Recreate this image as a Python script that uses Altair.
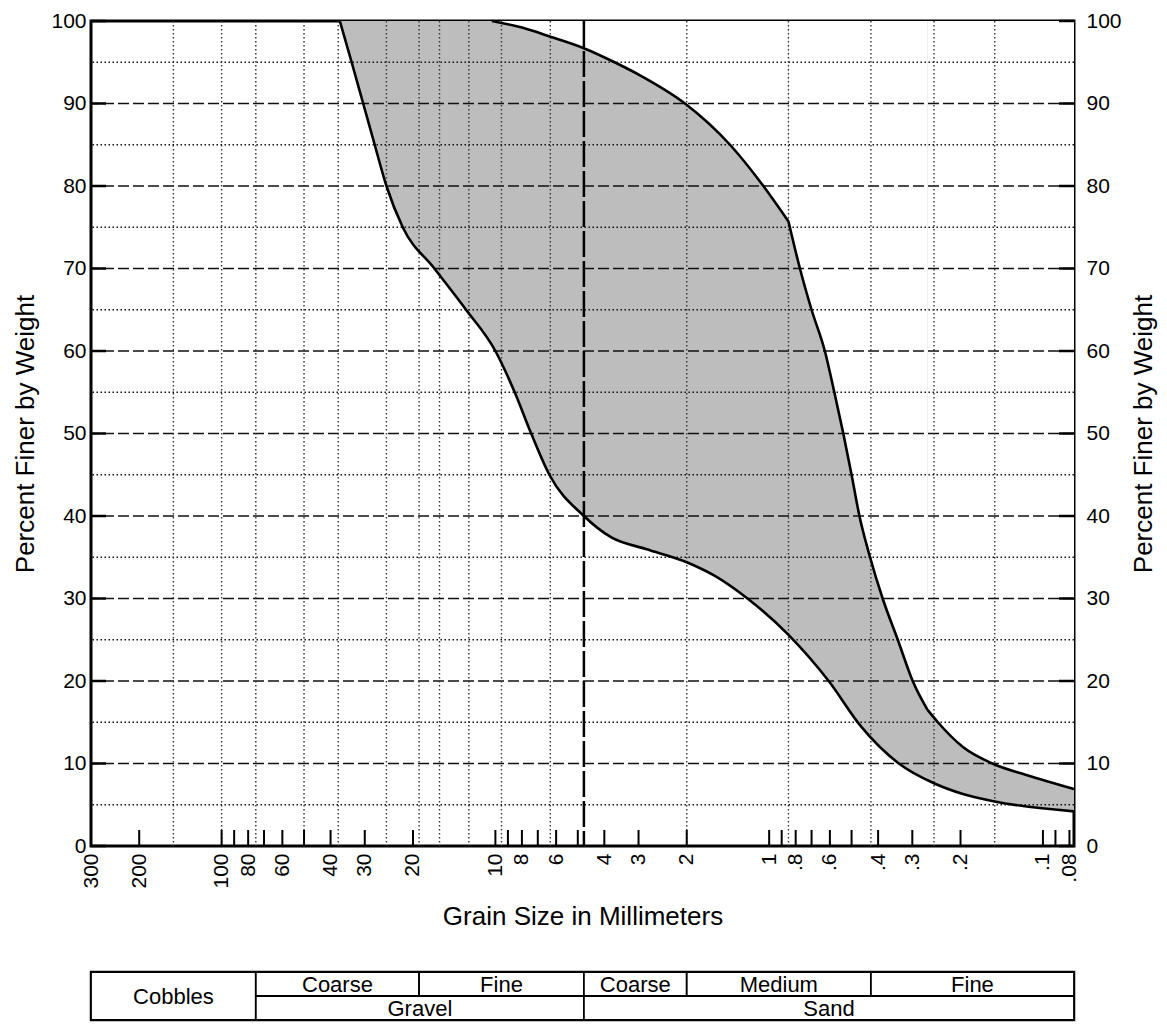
import altair as alt
import pandas as pd
import math

# ---------------- data ----------------
# lower (coarser) grading limit: grain size (mm) -> percent finer
lower_size = [37.0, 33.5, 30.4, 27.6, 25.0, 21.8, 16.7, 12.8, 10.0, 8.5, 7.4, 6.35,
              4.75, 3.77, 2.82, 2.0, 1.59, 1.2, 0.85, 0.606, 0.462, 0.336, 0.25,
              0.196, 0.15, 0.077]
lower_pct = [100, 95, 90, 85, 80, 75, 70, 65, 60, 55, 50, 45,
             40, 37.4, 36, 34.4, 32.8, 30, 25.6, 20, 14.5, 10, 7.6,
             6.3, 5.4, 4.2]

# upper (finer) grading limit, in three pieces split at its two sharp bends
upper_size = [10.3, 8.0, 6.3, 4.75, 3.67, 2.92, 2.03, 1.39, 1.05, 0.85,
              0.85, 0.772, 0.70, 0.626, 0.578, 0.536, 0.50, 0.468, 0.428, 0.385,
              0.339, 0.299, 0.264,
              0.264, 0.242, 0.196, 0.153, 0.115, 0.077]
upper_pct = [100, 99.2, 98.1, 96.7, 95, 93.3, 90, 85, 80, 75.7,
             75.7, 70, 65, 60, 55, 50, 45, 40, 35, 30,
             25, 20, 16.5,
             16.5, 15, 12, 10, 8.6, 6.9]
upper_piece = [0] * 10 + [1] * 13 + [2] * 6

major_pct = [10, 20, 30, 40, 50, 60, 70, 80, 90]
minor_pct = [5, 15, 25, 35, 45, 55, 65, 75, 85, 95]
y_labels = [0, 10, 20, 30, 40, 50, 60, 70, 80, 90, 100]

grid_sizes = [150, 100, 75, 50, 37.5, 25, 19, 16, 12.5, 9.5, 6.3, 2.0, 0.85,
              0.425, 0.25, 0.15]
sieve_no4 = [4.75]
tick_sizes = [200, 100, 90, 80, 70, 60, 50, 40, 30, 20, 10, 9, 8, 7, 6, 5, 4, 3, 2,
              1, 0.9, 0.8, 0.7, 0.6, 0.5, 0.4, 0.3, 0.2, 0.1, 0.09, 0.08]
label_sizes = [300, 200, 100, 80, 60, 40, 30, 20, 10, 8, 6, 4, 3, 2, 1,
               0.8, 0.6, 0.4, 0.3, 0.2, 0.1, 0.08]

table_names = ["Cobbles", "Coarse", "Fine", "Coarse", "Medium", "Fine", "Gravel", "Sand"]
table_from = [300, 75, 19, 4.75, 2.0, 0.425, 75, 4.75]
table_to = [75, 19, 4.75, 2.0, 0.425, 0.077, 4.75, 0.077]
table_row_lo = [0, 1, 1, 1, 1, 1, 0, 0]
table_row_hi = [2, 2, 2, 2, 2, 2, 1, 1]

# ---------------- chart ----------------
W, H = 983, 825
FONT = "Liberation Sans"
LABEL_FS = 21
TITLE_FS = 26

xscale = alt.Scale(type="log", domain=[0.077, 300], reverse=True, nice=False)
yscale = alt.Scale(domain=[0, 100], nice=False)

lower_df = pd.DataFrame({"size": lower_size, "pct": lower_pct})
upper_df = pd.DataFrame({"size": upper_size, "pct": upper_pct, "piece": upper_piece})

X = lambda: alt.X("size:Q", scale=xscale, axis=None)
Y = lambda: alt.Y("pct:Q", scale=yscale, axis=None)

gray_area = alt.Chart(lower_df).mark_area(interpolate="monotone", color="#bdbdbd", opacity=1).encode(
    x=X(), y=Y(), y2=alt.datum(100))
white_area = alt.Chart(upper_df).mark_area(interpolate="monotone", color="white", opacity=1).encode(
    x=X(), y=Y(), y2=alt.datum(100), detail="piece:N")

minor_grid = alt.Chart(pd.DataFrame({"pct": minor_pct})).mark_rule(
    strokeDash=[1.5, 2.5], strokeWidth=1.6, color="#111").encode(y=Y())
major_grid = alt.Chart(pd.DataFrame({"pct": major_pct})).mark_rule(
    strokeDash=[11, 4], strokeWidth=1.6, color="#111").encode(y=Y())
x_grid = alt.Chart(pd.DataFrame({"size": grid_sizes})).mark_rule(
    strokeDash=[1.5, 2.5], strokeWidth=1.4, color="#333").encode(x=X())
no4_line = alt.Chart(pd.DataFrame({"size": sieve_no4})).mark_rule(
    strokeDash=[26, 4], strokeWidth=2.5, color="black").encode(x=X())

lower_line = alt.Chart(lower_df).mark_line(interpolate="monotone", color="black", strokeWidth=2.6).encode(
    x=X(), y=Y())
upper_line = alt.Chart(upper_df).mark_line(interpolate="monotone", color="black", strokeWidth=2.6,
                                           strokeJoin="miter").encode(
    x=X(), y=Y(), detail="piece:N")

x_axis = alt.Axis(
    values=label_sizes,
    labelExpr="datum.value >= 1 ? format(datum.value, 'd') : replace(format(datum.value, '.2~f'), '0.', '.')",
    labelAngle=270, labelFontSize=LABEL_FS, labelPadding=7, labelOverlap=False,
    ticks=False, domain=False, grid=False,
    title="Grain Size in Millimeters", titleFontSize=TITLE_FS, titlePadding=15,
)
bottom_ticks = alt.Chart(pd.DataFrame({"size": tick_sizes})).mark_rule(
    strokeWidth=2, color="black").encode(
    x=alt.X("size:Q", scale=xscale, axis=x_axis),
    y=alt.value(H), y2=alt.value(H - 16))

left_axis = alt.Axis(orient="left", values=y_labels, labelFontSize=LABEL_FS, labelPadding=5,
                     ticks=False, domain=False, grid=False,
                     title="Percent Finer by Weight", titleFontSize=TITLE_FS, titlePadding=12)
right_axis = alt.Axis(orient="right", values=y_labels, labelFontSize=LABEL_FS, labelPadding=12,
                      ticks=False, domain=False, grid=False, titleAngle=270, titleBaseline="top",
                      title="Percent Finer by Weight", titleFontSize=TITLE_FS, titlePadding=9)

ydf = pd.DataFrame({"pct": y_labels})
left_ticks = alt.Chart(ydf).mark_rule(strokeWidth=2.5, color="black").encode(
    y=alt.Y("pct:Q", scale=yscale, axis=left_axis), x=alt.value(0), x2=alt.value(15))
right_ticks = alt.Chart(ydf).mark_rule(strokeWidth=2.5, color="black").encode(
    y=alt.Y("pct:Q", scale=yscale, axis=right_axis), x=alt.value(W - 15), x2=alt.value(W))

main = alt.layer(
    gray_area, white_area, minor_grid, major_grid, x_grid, no4_line,
    lower_line, upper_line, bottom_ticks, left_ticks, right_ticks
).resolve_axis(x="independent", y="independent").properties(
    width=W, height=H, view=alt.ViewBackground(stroke="black", strokeWidth=3))

# ---------------- classification table ----------------
tdf = pd.DataFrame({
    "name": table_names, "x0": table_from, "x1": table_to,
    "r0": table_row_lo, "r1": table_row_hi,
})
tdf["xm"] = [math.sqrt(a * b) for a, b in zip(table_from, table_to)]
tdf["rm"] = [(a + b) / 2 for a, b in zip(table_row_lo, table_row_hi)]

tyscale = alt.Scale(domain=[0, 2], nice=False)
cells = alt.Chart(tdf).mark_rect(fill="white", stroke="black", strokeWidth=1.8).encode(
    x=alt.X("x0:Q", scale=xscale, axis=None), x2="x1:Q",
    y=alt.Y("r0:Q", scale=tyscale, axis=None), y2="r1:Q")
labels = alt.Chart(tdf).mark_text(font=FONT, fontSize=22, color="black", baseline="middle",
                                  align="center", dy=1).encode(
    x=alt.X("xm:Q", scale=xscale, axis=None),
    y=alt.Y("rm:Q", scale=tyscale, axis=None), text="name:N")
table = alt.layer(cells, labels).properties(
    width=W, height=48, view=alt.ViewBackground(stroke="black", strokeWidth=2.5))

chart = alt.vconcat(main, table, spacing=38).properties(
    padding={"left": 3, "top": 0, "right": 0, "bottom": 0}
).configure_axis(
    labelFont=FONT, titleFont=FONT, labelColor="black", titleColor="black",
    titleFontWeight="normal"
)

chart.save("out.html", embed_options={"renderer": "svg", "actions": False})
